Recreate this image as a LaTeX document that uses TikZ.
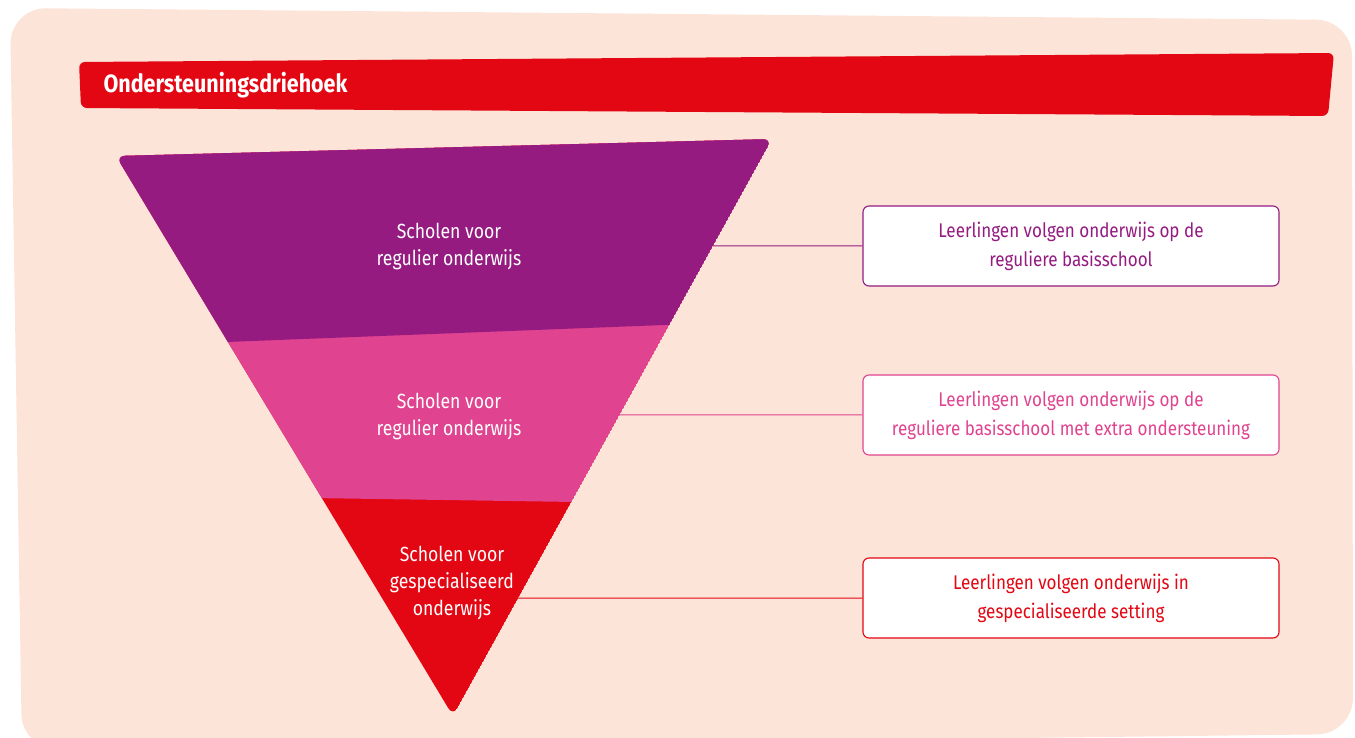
\documentclass[tikz,border=0pt]{standalone}
\usepackage{fontspec}
\setmainfont[FakeStretch=0.86]{Fira Sans}
\usetikzlibrary{calc}
\definecolor{peach}{RGB}{252,228,216}
\definecolor{rouge}{RGB}{227,6,19}
\definecolor{paars}{RGB}{149,27,129}
\definecolor{roze}{RGB}{224,67,143}

\begin{document}
\begin{tikzpicture}[x=1pt,y=-1pt,
  kader/.style={draw,fill=white,rounded corners=6pt,line width=1.1pt,minimum width=416pt,minimum height=80pt,align=center,font=\fontsize{19.8}{29}\selectfont},
  laag/.style={text=white,align=center,font=\fontsize{20.5}{27}\selectfont},
  lijn/.style={line width=1pt}]
\useasboundingbox (0,0) rectangle (1355,738);
\fill [peach,rounded corners=36pt] (10,8) -- (1352,20) -- (1353,734) -- (22,750) -- cycle;
\fill [rouge,rounded corners=6pt] (79,62) -- (1334,53) -- (1328,116) -- (81,108) -- cycle;
\node [anchor=west,text=white,font=\bfseries\fontsize{25}{28}\selectfont] (titel) at (100,85) {Ondersteuningsdriehoek};
% de driehoek
\coordinate (tl) at (116,156);
\coordinate (tr) at (772,139);
\coordinate (ap) at (453,716);
\begin{scope}
\clip [rounded corners=9pt] (tl) -- (tr) -- (ap) -- cycle;
\fill [rouge] (tl) -- (tr) -- (ap) -- cycle;
\fill [roze] (tl) -- (tr) -- ($(tr)!0.629!(ap)$) -- ($(tl)!0.611!(ap)$) -- cycle;
\fill [paars] (tl) -- (tr) -- ($(tr)!0.322!(ap)$) -- ($(tl)!0.332!(ap)$) -- cycle;
\end{scope}
\node [laag] (regulier) at (449,246) {Scholen voor\\regulier onderwijs};
\node [laag] (extra) at (449,416) {Scholen voor\\regulier onderwijs};
\node [laag] (speciaal) at (452,583) {Scholen voor\\gespecialiseerd\\onderwijs};
% de kaders
\node [kader,draw=paars,text=paars] (basis) at (1071,246) {Leerlingen volgen onderwijs op de\\reguliere basisschool};
\node [kader,draw=roze,text=roze] (steun) at (1071,415) {Leerlingen volgen onderwijs op de\\reguliere basisschool met extra ondersteuning};
\node [kader,draw=rouge,text=rouge] (setting) at (1071,598) {Leerlingen volgen onderwijs in\\gespecialiseerde setting};
\coordinate (e1) at ($(tr)!0.1854!(ap)$);
\coordinate (e2) at ($(tr)!0.4783!(ap)$);
\coordinate (e3) at ($(tr)!0.7955!(ap)$);
\draw [lijn,paars] (e1) -- (basis);
\draw [lijn,roze] (e2) -- (steun);
\draw [lijn,rouge] (e3) -- (setting);
\end{tikzpicture}
\end{document}
